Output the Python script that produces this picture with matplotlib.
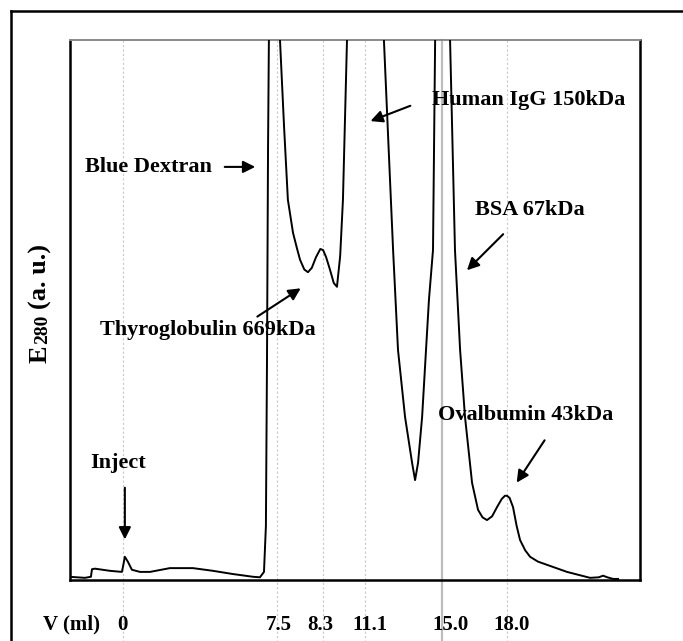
import matplotlib
matplotlib.use('Agg')
import matplotlib.pyplot as plt
from matplotlib.lines import Line2D

# elution trace (x in ml, y in % of plot height; peaks run off the top)
volume = [-2.53, -1.78, -1.50, -1.45, -1.31, -0.61, -0.05, 0.00, 0.09, 0.23, 0.42, 0.80,
          1.27, 2.20, 3.28, 4.22, 5.16, 6.09, 6.42, 6.61, 6.70, 6.75, 6.80, 6.84, 7.08,
          7.36, 7.55, 7.73, 7.97, 8.15, 8.30, 8.50, 8.67, 8.85, 9.05, 9.25, 9.38, 9.52,
          9.70, 9.88, 10.03, 10.18, 10.31, 10.50, 11.34, 12.23, 12.45, 12.66, 12.89,
          13.22, 13.55, 13.69, 13.83, 14.02, 14.34, 14.53, 14.63, 14.95, 15.33, 15.56,
          15.80, 16.03, 16.36, 16.64, 16.85, 17.06, 17.30, 17.53, 17.75, 17.90, 18.00,
          18.12, 18.28, 18.45, 18.61, 18.85, 19.08, 19.45, 19.88, 20.81, 21.89, 22.30,
          22.50, 22.70, 22.97, 23.20]
signal = [0.6, 0.4, 0.6, 2.0, 2.1, 1.7, 1.5, 2.4, 4.3, 3.4, 1.9, 1.5,
          1.5, 2.2, 2.2, 1.7, 1.1, 0.6, 0.5, 1.5, 10.0, 40.0, 80.0, 100.0, 125.0,
          100.0, 84.0, 70.4, 64.3, 61.5, 59.3, 57.5, 57.0, 57.8, 59.8, 61.3, 61.1, 59.8,
          57.5, 55.0, 54.3, 60.0, 70.4, 100.0, 130.0, 100.0, 80.0, 61.1, 42.6,
          30.2, 21.7, 18.5, 21.7, 30.2, 51.9, 61.1, 100.0, 130.0, 100.0, 61.1,
          42.6, 30.2, 18.0, 13.0, 11.6, 11.1, 11.8, 13.5, 15.0, 15.6, 15.6,
          15.2, 13.5, 10.0, 7.4, 5.5, 4.3, 3.4, 2.8, 1.5, 0.4, 0.5,
          0.8, 0.5, 0.2, 0.2]

grid_ml = [0.0, 7.22, 9.375, 11.34, 18.0]
marker_ml = 14.95
label_ml = [0.0, 7.31, 9.23, 11.58, 15.33, 18.23]
tick_labels = ['0', '7.5', '8.3', '11.1', '15.0', '18.0']

W, H = 683, 641
fig = plt.figure(figsize=(W / 100, H / 100), dpi=100)
ax = fig.add_axes([70 / W, 1 - 580 / H, 570 / W, 540 / H])
serif = ['Liberation Serif', 'DejaVu Serif']

ax.plot(volume, signal, color='black', linewidth=1.4, zorder=3)
ax.set_xlim(-2.48, 24.23)
ax.set_ylim(0, 100)
ax.set_xticks([])
ax.set_yticks([])
for side in ['left', 'bottom', 'right']:
    ax.spines[side].set_linewidth(1.8)
ax.spines['top'].set_color('#8a8a8a')
ax.spines['top'].set_linewidth(1.4)

# gridlines reach past the axes down to the labels
trans = ax.get_xaxis_transform()
for g in grid_ml:
    ax.add_line(Line2D([g, g], [1, -0.12], transform=trans, color='#c8c8c8',
                       linestyle=(0, (2, 2)), linewidth=0.8, clip_on=False, zorder=1))
ax.add_line(Line2D([marker_ml, marker_ml], [1, -0.12], transform=trans, color='#bdbdbd',
                   linewidth=1.6, clip_on=False, zorder=1))

for x, lab in zip(label_ml, tick_labels):
    ax.text(x, -0.083, lab, transform=trans, ha='center', va='center',
            fontsize=15, fontweight='bold', family=serif)
ax.text(-2.39, -0.083, 'V (ml)', transform=trans, ha='center', va='center',
        fontsize=15, fontweight='bold', family=serif)

# y label, with a smaller "280"
for txt, py, size in [('E', 363, 19), ('280', 344, 14), ('(a. u.)', 309, 19)]:
    fig.text(47 / W, 1 - py / H, txt, rotation=90, rotation_mode='anchor',
             ha='left', va='baseline', fontsize=size, fontweight='bold', family=serif)

arrow = dict(arrowstyle='-|>', color='black', lw=1.5, mutation_scale=18)
notes = [
    ('Human IgG 150kDa', (14.48, 88.9), 'left', (13.59, 88.0), (11.48, 84.8)),
    ('Blue Dextran', (4.17, 76.5), 'right', (4.64, 76.5), (6.33, 76.5)),
    ('BSA 67kDa', (16.5, 68.5), 'left', (17.91, 64.4), (16.03, 57.0)),
    ('Thyroglobulin 669kDa', (-1.08, 46.3), 'left', (6.19, 48.5), (8.44, 54.3)),
    ('Ovalbumin 43kDa', (14.77, 30.6), 'left', (19.83, 26.3), (18.38, 17.6)),
    ('Inject', (-0.23, 21.7), 'center', (0.09, 17.6), (0.09, 7.0)),
]
for txt, pos, ha, tail, head in notes:
    ax.text(pos[0], pos[1], txt, ha=ha, va='center', fontsize=16,
            fontweight='bold', family=serif, zorder=4)
    ax.annotate('', xy=head, xytext=tail, arrowprops=arrow, zorder=4)

# outer frame (only left and top edges fall inside the picture)
fig.add_artist(Line2D([11 / W, 11 / W], [0, 1 - 11 / H], color='black', linewidth=1.8))
fig.add_artist(Line2D([11 / W, 1], [1 - 11 / H, 1 - 11 / H], color='black', linewidth=1.8))

fig.savefig('out.png', dpi=100)
